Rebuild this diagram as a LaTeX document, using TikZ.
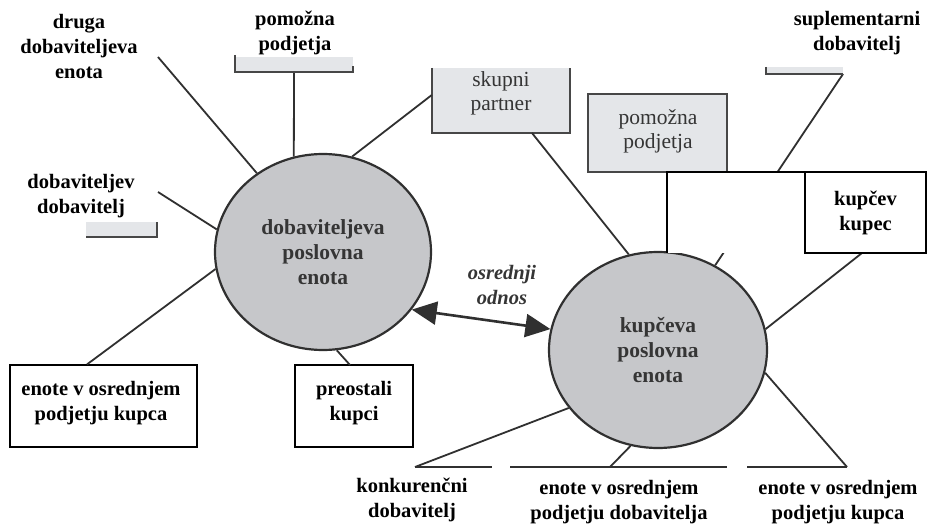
\documentclass[tikz,border=0pt]{standalone}
\usepackage{fontspec}
\setmainfont{Liberation Serif}
\usetikzlibrary{shapes.geometric,arrows.meta}
\definecolor{linegray}{HTML}{303030}
\definecolor{unitfill}{HTML}{C6C7CA}
\definecolor{boxfill}{HTML}{E4E6E9}
\definecolor{boxedge}{HTML}{474747}
\definecolor{textgray}{HTML}{353535}

\begin{document}
\begin{tikzpicture}[x=1pt,y=-1pt,
  conn/.style={draw=linegray, line width=1.8pt},
  unit/.style={ellipse, draw=linegray, line width=2.2pt, fill=unitfill, inner sep=0pt,
    text=textgray, font=\fontsize{21.5}{25}\selectfont\bfseries, align=center},
  lbl/.style={align=center, font=\fontsize{20.5}{25}\selectfont\bfseries, inner sep=0pt},
  softlbl/.style={align=center, font=\fontsize{21.5}{24}\selectfont, text=textgray, inner sep=0pt},
  graybox/.style={rectangle, fill=boxfill, inner sep=0pt},
  whitebox/.style={rectangle, draw=black, line width=1.2pt, fill=white, inner sep=0pt},
  edge/.style={draw=boxedge, line width=1.8pt},
  relarrow/.style={draw=linegray, line width=2.6pt,
    {Triangle[length=25pt,width=23pt]}-{Triangle[length=25pt,width=23pt]}},
]
\useasboundingbox[fill=white] (0,0) rectangle (927,524);

% the two business units
\node[unit, minimum width=216pt, minimum height=196pt] (dob) at (323,252) {dobaviteljeva\\poslovna\\enota};
\node[unit, minimum width=218pt, minimum height=196pt] (kup) at (658,350) {kupčeva\\poslovna\\enota};

% free ends of the connectors
\coordinate (druga-end) at (158,57);
\coordinate (pomA-foot) at (294,72);
\coordinate (dd-end) at (158,192);
\coordinate (sup-foot) at (843,74);
\coordinate (kk-foot) at (862,253);
\coordinate (kon-top) at (415,467);
\coordinate (eod-top) at (610,467);
\coordinate (eok-top) at (847,467);

% connectors around the supplier unit
\draw[conn] (druga-end) -- (dob.130);
\draw[conn] (pomA-foot) -- (dob.107);
\draw[conn] (dd-end) -- (dob.168.5);

% connectors around the buyer unit
\draw[conn] (sup-foot) -- (kup.56.8);
\draw[conn] (kk-foot) -- (kup.11.5);
\draw[conn] (kon-top) -- (kup.213.8);
\draw[conn] (eod-top) -- (kup.254);
\draw[conn] (eok-top) -- (kup.348.7);

% bars above the bottom labels
\draw[conn] (kon-top) -- ++(77,0);
\draw[conn] (510,467) -- (727,467);
\draw[conn] (747,467) -- (eok-top);

% the core relationship
\draw[relarrow] (dob.327) -- (kup.169.5);
\node[align=center, inner sep=0pt, text=textgray,
  font=\fontsize{20.5}{25}\selectfont\bfseries\itshape] (rel) at (502,285) {osrednji\\odnos};

% remaining fragment of the upper auxiliary-companies box
\fill[boxfill] (235,57) rectangle (353,72);
\draw[edge] (235,55) -- (235,72) -- (353,72) -- (353,66);

% remaining fragment of the supplier's supplier box
\fill[boxfill] (86,222) rectangle (157,237);
\draw[edge] (86,237) -- (157,237) -- (157,222);

% remaining fragment of the supplementary supplier box
\fill[boxfill] (766,67) rectangle (843,74);
\draw[edge] (766,67) -- (766,74) -- (843,74);

% joint partner
\node[graybox, minimum width=138pt, minimum height=65pt] (sp) at (501,100.5) {};
\draw[edge] (sp.north west) -- (sp.south west) -- (sp.south east) -- (sp.north east);
\node[softlbl] (spT) at (501,93) {skupni\\partner};
\draw[conn] (sp.west |- 0,95) -- (dob.73);
\draw[conn] (532,133) -- (kup.107);

% auxiliary companies on the buyer side
\node[graybox, minimum width=139pt, minimum height=78pt] (pomB) at (657.5,133) {};
\draw[edge] (pomB.north west) rectangle (pomB.south east);
\node[softlbl] (pomBT) at (658,131) {pomožna\\podjetja};

% white panel with the buyer's buyer
\fill[white] (667,172) rectangle (926,253);
\draw[black, line width=1.2pt] (667,253) -- (667,172) -- (805,172);
\node[whitebox, minimum width=121pt, minimum height=81pt, lbl] (kk) at (865.5,212.5) {kupčev\\kupec};

% labelled boxes along the bottom left
\node[whitebox, minimum width=187pt, minimum height=82pt] (eokL) at (103.5,406) {};
\node[lbl] (eokLT) at (101,403) {enote v osrednjem\\podjetju kupca};
\node[whitebox, minimum width=118pt, minimum height=82pt] (pre) at (354,406) {};
\node[lbl] (preT) at (354,403) {preostali\\kupci};
\draw[conn] (eokL.north west -| 87,0) -- (dob.189.6);
\draw[conn] (350,365) -- (dob.278.3);

% free text labels
\node[lbl] (druga) at (79,46) {druga\\dobaviteljeva\\enota};
\node[lbl] (pomAT) at (295,33) {pomožna\\podjetja};
\node[lbl] (supT) at (857,33) {suplementarni\\dobavitelj};
\node[lbl] (ddT) at (81,196) {dobaviteljev\\dobavitelj};
\node[lbl] (konT) at (412,500) {konkurenčni\\dobavitelj};
\node[lbl] (eodT) at (619,502) {enote v osrednjem\\podjetju dobavitelja};
\node[lbl] (eokRT) at (838,502) {enote v osrednjem\\podjetju kupca};
\end{tikzpicture}
\end{document}
